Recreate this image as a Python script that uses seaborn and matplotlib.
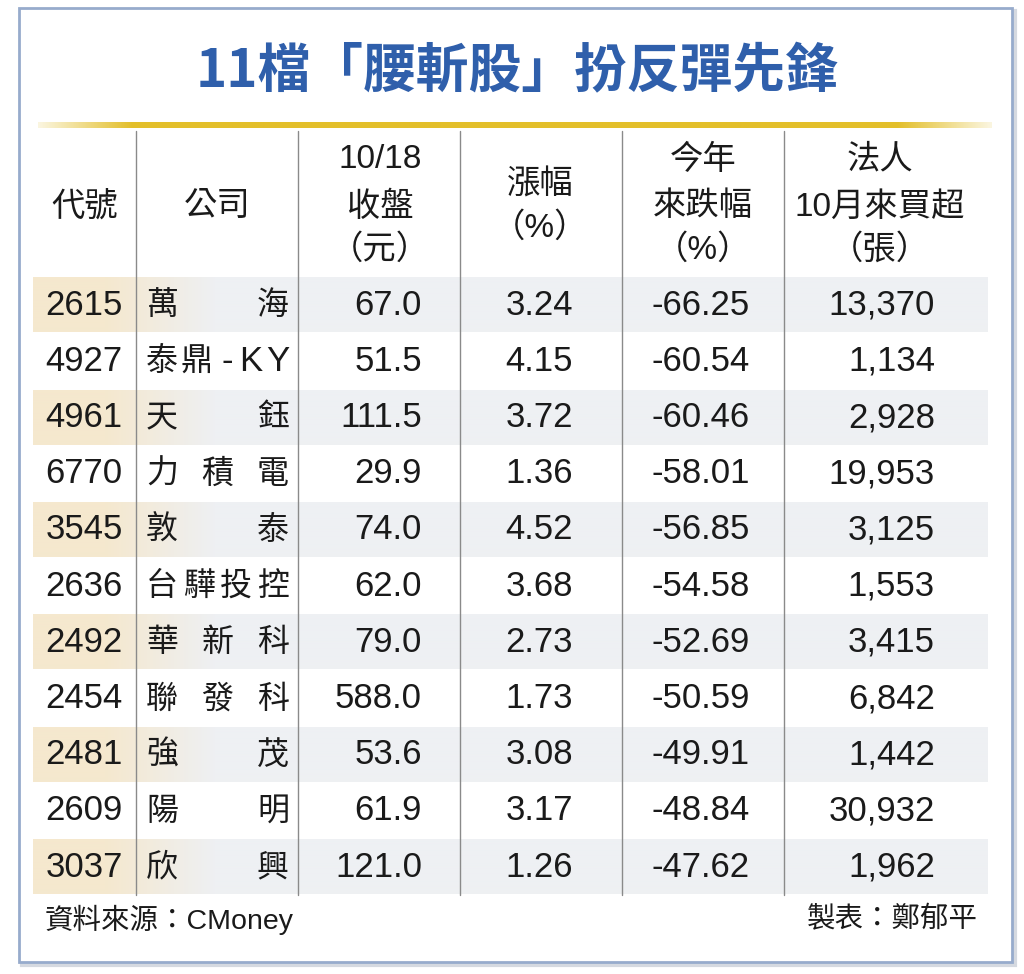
import numpy as np
import pandas as pd
import matplotlib; matplotlib.use("Agg")
import matplotlib.pyplot as plt
from matplotlib.patches import Rectangle
import seaborn as sns

sns.set_theme(style="white")
plt.rcParams["font.family"] = ["Liberation Sans", "Noto Sans CJK TC", "DejaVu Sans"]

# ---- data ----
title = "11檔「腰斬股」扮反彈先鋒"
codes = ["2615", "4927", "4961", "6770", "3545", "2636", "2492", "2454", "2481", "2609", "3037"]
names = ["萬海", "泰鼎-KY", "天鈺", "力積電", "敦泰", "台驊投控", "華新科", "聯發科", "強茂", "陽明", "欣興"]
close = [67.0, 51.5, 111.5, 29.9, 74.0, 62.0, 79.0, 588.0, 53.6, 61.9, 121.0]
chg = [3.24, 4.15, 3.72, 1.36, 4.52, 3.68, 2.73, 1.73, 3.08, 3.17, 1.26]
ytd = [-66.25, -60.54, -60.46, -58.01, -56.85, -54.58, -52.69, -50.59, -49.91, -48.84, -47.62]
buy = [13370, 1134, 2928, 19953, 3125, 1553, 3415, 6842, 1442, 30932, 1962]
headers = [["代號"], ["公司"], ["10/18", "收盤", "（元）"], ["漲幅", "（%）"],
           ["今年", "來跌幅", "（%）"], ["法人", "10月來買超", "（張）"]]
source = "資料來源：CMoney"
author = "製表：鄭郁平"

df = pd.DataFrame({"code": codes, "name": names, "close": close, "chg": chg, "ytd": ytd, "buy": buy})

# ---- layout (pixel coords) ----
W, H = 1024, 974
fig = plt.figure(figsize=(W / 100, H / 100), dpi=100)
ax = fig.add_axes([0, 0, 1, 1])
ax.set_xlim(0, W); ax.set_ylim(H, 0); ax.axis("off")

BLUE = "#2f5fab"; INK = "#1a1a1a"; GRID = "#8a8a8a"
CJK = ["Noto Sans CJK TC", "DejaVu Sans"]
NUM = ["Liberation Sans", "Noto Sans CJK TC"]

# frame with faint shadow
ax.add_patch(Rectangle((22, 11), 993, 954, facecolor="none", edgecolor="#d5d9e0", lw=3, zorder=1))
ax.add_patch(Rectangle((19, 8), 993, 954, facecolor="white", edgecolor="#97abcc", lw=2, zorder=2))

ax.text(517, 72, title, color=BLUE, fontsize=38, fontweight="bold", family=CJK,
        ha="center", va="center", zorder=5)

# gold rule with faded ends
n = 400
gold = np.zeros((1, n, 4))
gold[..., :3] = matplotlib.colors.to_rgb("#e3bf2a")
a = np.ones(n); ramp = 40
a[:ramp] = np.linspace(0.15, 1, ramp); a[-ramp:] = np.linspace(1, 0.15, ramp)
gold[0, :, 3] = a
ax.imshow(gold, extent=[38, 992, 128, 122], aspect="auto", zorder=3, interpolation="bilinear")

# table geometry
sep_x = [136, 298, 460, 622, 784]
top0, rh = 277, 56.2
left, right = 33, 988

# shaded stripes: beige first column fading into light gray
xs = np.arange(left, right)
beige = np.array(matplotlib.colors.to_rgb("#f5e8ce"))
grey = np.array(matplotlib.colors.to_rgb("#eef0f3"))
t = np.clip((xs - 105) / 110, 0, 1)[:, None]
stripe = (beige * (1 - t) + grey * t)[None, :, :]
for i in range(0, len(df), 2):
    y0 = top0 + i * rh
    ax.imshow(stripe, extent=[left, right, y0 + rh - 1, y0 + 1], aspect="auto", zorder=3,
              interpolation="bilinear")

# vertical separators
for x in sep_x:
    ax.plot([x, x], [131, top0 + len(df) * rh], color=GRID, lw=1, zorder=4)

# headers
hx = [85, 217, 380, 540, 703, 880]
line_y = {1: [207], 2: [185, 228], 3: [160, 207, 250]}
for x, lines in zip(hx, headers):
    for y, s in zip(line_y[len(lines)], lines):
        ax.text(x, y, s, fontsize=24, color=INK, ha="center", va="center", family=NUM, zorder=5)

# body
FS = 25
for i, r in df.iterrows():
    yc = top0 + i * rh + rh / 2
    ax.text(84, yc, r.code, fontsize=FS, color=INK, ha="center", va="center", family=NUM, zorder=5)
    nm = r["name"]
    if all(ord(c) > 0x2E80 for c in nm):
        cx = np.linspace(162, 273, len(nm))
        for c, x in zip(nm, cx):
            ax.text(x, yc, c, fontsize=23, color=INK, ha="center", va="center", family=CJK, zorder=5)
    else:
        # mixed name: spaced characters as in the print layout
        for c, x in zip(nm, [162, 197, 227, 251, 278]):
            fam = CJK if ord(c) > 0x2E80 else NUM
            ax.text(x, yc, c, fontsize=23 if fam is CJK else FS, color=INK,
                    ha="center", va="center", family=fam, zorder=5)
    ax.text(422, yc, f"{r.close:.1f}", fontsize=FS, color=INK, ha="right", va="center", family=NUM, zorder=5)
    ax.text(573, yc, f"{r.chg:.2f}", fontsize=FS, color=INK, ha="right", va="center", family=NUM, zorder=5)
    ax.text(750, yc, f"{r.ytd:.2f}", fontsize=FS, color=INK, ha="right", va="center", family=NUM, zorder=5)
    ax.text(935, yc, f"{r.buy:,}", fontsize=FS, color=INK, ha="right", va="center", family=NUM, zorder=5)

# footer
ax.text(45, 920, source, fontsize=20.5, color=INK, ha="left", va="center", family=NUM, zorder=5)
ax.text(978, 920, author, fontsize=20.5, color=INK, ha="right", va="center", family=NUM, zorder=5)

fig.savefig("out.png", dpi=100)
